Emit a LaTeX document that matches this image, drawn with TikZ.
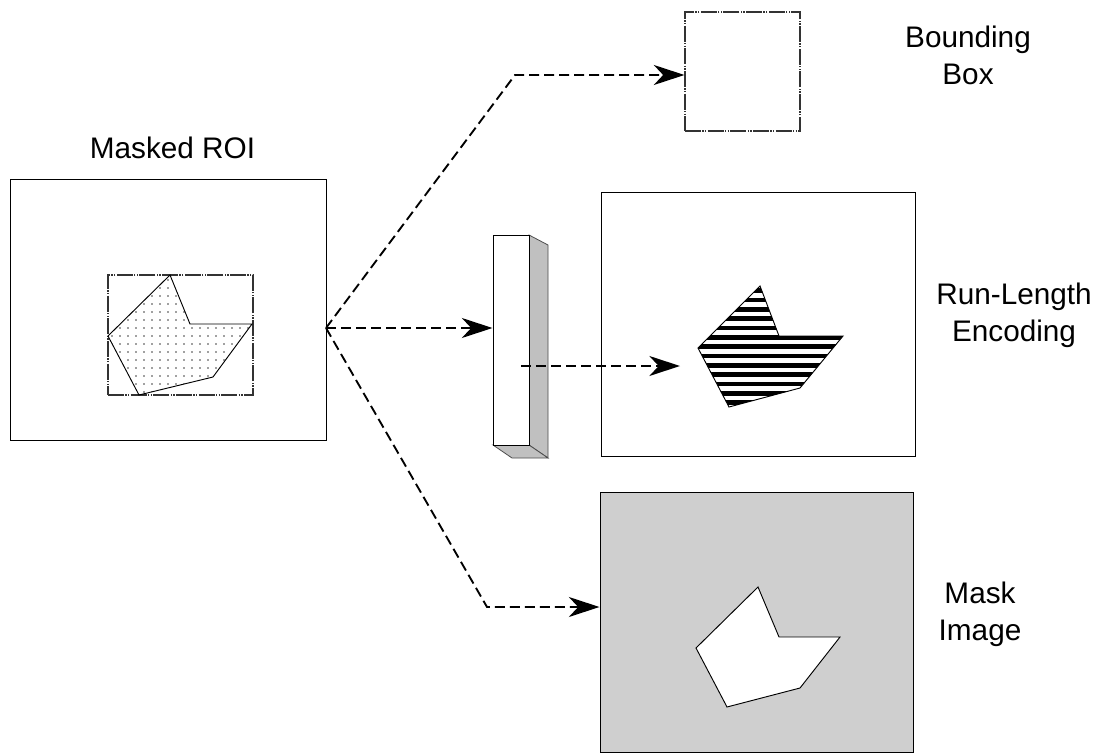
\documentclass[tikz,border=0pt]{standalone}
\usepackage{fontspec}
\setmainfont{Liberation Sans}
\usetikzlibrary{arrows.meta,patterns.meta,fit}
\definecolor{maskgray}{RGB}{207,207,207}
\definecolor{sidegray}{RGB}{192,192,192}
\tikzset{
  frame/.style={draw, line width=0.75pt, inner sep=0pt},
  dashdot/.style={draw=black!80, line width=0.8pt,
    dash pattern=on 12pt off 1pt on 1pt off 1pt on 1pt off 1pt},
  flow/.style={line width=1.4pt, dash pattern=on 7.5pt off 3.75pt,
    -{Stealth[length=23pt,width=15pt,inset=7pt]}},
  caption/.style={font=\fontsize{22.3}{27.75}\selectfont, align=center, inner sep=0pt},
  shape outline/.style={draw, line width=0.7pt, line join=miter}
}
\begin{document}
\begin{tikzpicture}[x=0.75pt,y=-0.75pt]
\useasboundingbox (0,0) rectangle (1094,752);

% corner points of the panels
\coordinate (roiTL) at (10,180);   \coordinate (roiBR) at (326,440);
\coordinate (inTL) at (108,275);   \coordinate (inBR) at (253,395);
\coordinate (bbTL) at (685,12);    \coordinate (bbBR) at (800,131);
\coordinate (barTL) at (493,235);  \coordinate (barBR) at (529,445);
\coordinate (rleTL) at (601,193);  \coordinate (rleBR) at (915,456);
\coordinate (mskTL) at (600,492);  \coordinate (mskBR) at (913,752);

% masked region of interest
\node[frame, fit=(roiTL)(roiBR)] (roi) {};
\node[dashdot, inner sep=0pt, fit=(inTL)(inBR)] (inner) {};
\draw[shape outline, pattern={Dots[distance=6pt,radius=0.6pt]}, pattern color=black!75]
  (170,275) -- (190,324) -- (252,324) -- (213,377) -- (139,395) -- (108,336) -- cycle;
\node[caption, anchor=base] (roilabel) at (172.5,159) {Masked ROI};

% bounding box output
\node[dashdot, inner sep=0pt, fit=(bbTL)(bbBR)] (bbox) {};
\node[caption, anchor=base] (bblabel) at (968,85) {Bounding\\Box};

% encoder bar (3D slab)
\fill[sidegray, draw=black!70, line width=0.6pt] (529,235) -- (548,245) -- (548,458) -- (529,445) -- cycle;
\fill[sidegray, draw=black!70, line width=0.6pt] (493,445) -- (529,445) -- (548,458) -- (512,458) -- cycle;
\node[frame, fill=white, fit=(barTL)(barBR)] (bar) {};

% run-length encoding output
\node[frame, fit=(rleTL)(rleBR)] (rle) {};
\begin{scope}
  \clip (760,286) -- (779,336) -- (843,336) -- (800,388) -- (729,407) -- (698,348) -- cycle;
  \foreach \k in {0,...,14}
    \fill (690,{288.3+9.33*\k}) rectangle (850,{288.3+9.33*\k+4.6});
\end{scope}
\draw[shape outline] (760,286) -- (779,336) -- (843,336) -- (800,388) -- (729,407) -- (698,348) -- cycle;
\node[caption, anchor=base] (rlelabel) at (1014,341) {Run-Length\\Encoding};

% mask image output
\node[frame, fill=maskgray, fit=(mskTL)(mskBR)] (mask) {};
\draw[shape outline, fill=white] (758,587) -- (779,637) -- (840,637) -- (800,688) -- (727,707) -- (696,648) -- cycle;
\node[caption, anchor=base] (masklabel) at (980,640) {Mask\\Image};

% connectors
\coordinate (src) at (326,328);
\coordinate (bend1) at (515,75);
\coordinate (bend2) at (487,607);
\coordinate (barin) at (521,366);
\draw[flow] (src) -- (bend1) -- (bend1 -| bbox.west);
\draw[flow] (src) -- (src -| bar.west);
\draw[flow] (src) -- (bend2) -- (bend2 -| mask.west);
\draw[flow] (barin) -- (680,366);
\end{tikzpicture}
\end{document}
